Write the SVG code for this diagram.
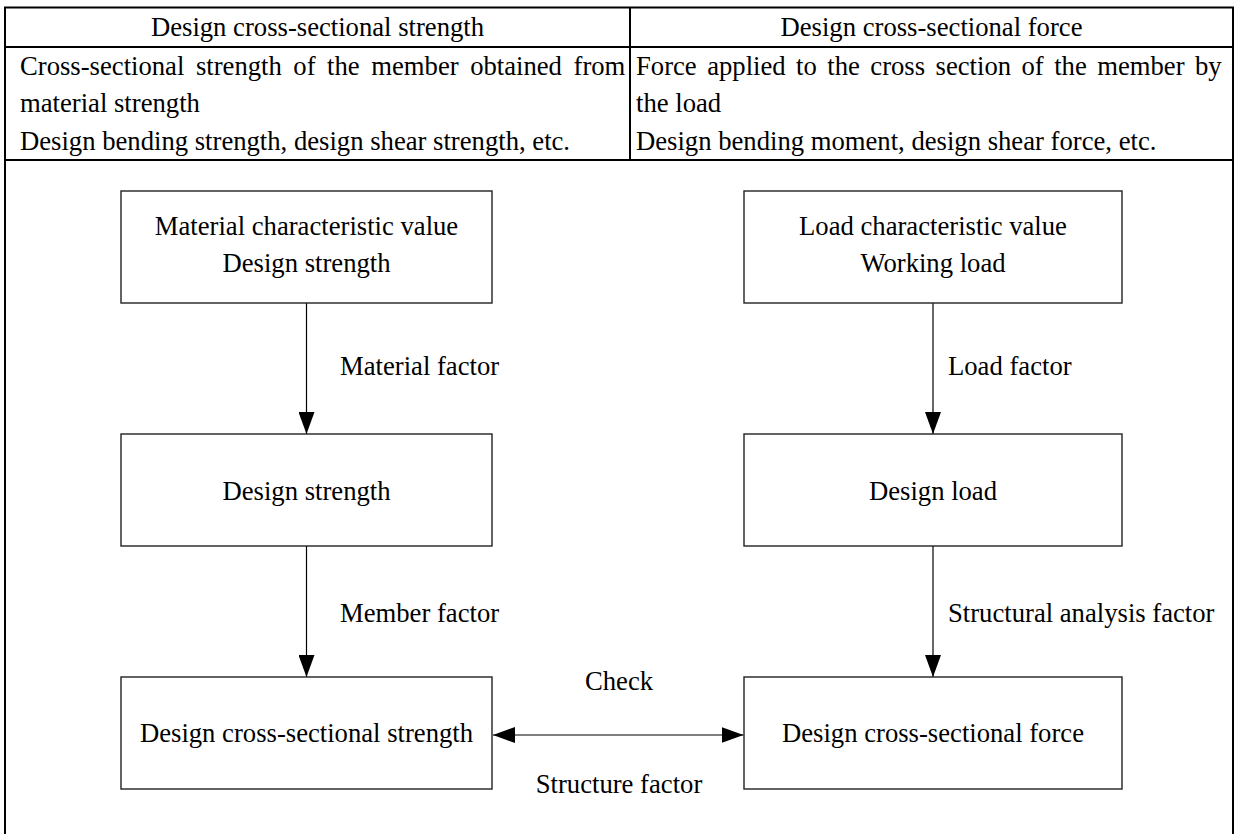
<svg xmlns="http://www.w3.org/2000/svg" width="1235" height="834" viewBox="0 0 1235 834">
<style>
  text { font-family: "Liberation Serif", "Times New Roman", serif; font-size: 26.67px; fill: #000; }
  .mid { text-anchor: middle; }
  .tbl { fill: none; stroke: #000; stroke-width: 2; }
  .box { fill: #fff; stroke: #222; stroke-width: 1.4; }
  .con { fill: none; stroke: #000; stroke-width: 1.2; }
</style>
<defs>
  <marker id="arr" markerUnits="userSpaceOnUse" markerWidth="22" markerHeight="16" refX="22" refY="8" orient="auto-start-reverse">
    <path d="M0,0 L22,8 L0,16 z" fill="#000"/>
  </marker>
</defs>
<rect width="1235" height="834" fill="#fff"/>
<g id="table">
  <path class="tbl" d="M5,840 V7.5 H1233 V840 M5,47 H1233 M5,160 H1233 M630,7.5 V160"/>
  <text class="mid" x="317.5" y="36">Design cross-sectional strength</text>
  <text class="mid" x="931.5" y="36">Design cross-sectional force</text>
  <text x="20" y="75" word-spacing="4.9">Cross-sectional strength of the member obtained from</text>
  <text x="20" y="112">material strength</text>
  <text x="20" y="150">Design bending strength, design shear strength, etc.</text>
  <text x="636" y="75" word-spacing="3.8">Force applied to the cross section of the member by</text>
  <text x="636" y="112">the load</text>
  <text x="636" y="150">Design bending moment, design shear force, etc.</text>
</g>
<g id="connectors">
  <line class="con" x1="306.5" y1="303" x2="306.5" y2="434" marker-end="url(#arr)"/>
  <line class="con" x1="306.5" y1="546" x2="306.5" y2="677" marker-end="url(#arr)"/>
  <line class="con" x1="933" y1="303" x2="933" y2="434" marker-end="url(#arr)"/>
  <line class="con" x1="933" y1="546" x2="933" y2="677" marker-end="url(#arr)"/>
  <line class="con" x1="493" y1="735" x2="743.5" y2="735" marker-start="url(#arr)" marker-end="url(#arr)"/>
  <text x="340" y="375">Material factor</text>
  <text x="340" y="622">Member factor</text>
  <text x="948" y="375">Load factor</text>
  <text x="948" y="622">Structural analysis factor</text>
  <text class="mid" x="619" y="690">Check</text>
  <text class="mid" x="619" y="793">Structure factor</text>
</g>
<g id="n-material-char">
  <rect class="box" x="121" y="191" width="371" height="112"/>
  <text class="mid" x="306.5" y="235">Material characteristic value</text>
  <text class="mid" x="306.5" y="272">Design strength</text>
</g>
<g id="n-load-char">
  <rect class="box" x="744" y="191" width="378" height="112"/>
  <text class="mid" x="933" y="235">Load characteristic value</text>
  <text class="mid" x="933" y="272">Working load</text>
</g>
<g id="n-design-strength">
  <rect class="box" x="121" y="434" width="371" height="112"/>
  <text class="mid" x="306.5" y="500">Design strength</text>
</g>
<g id="n-design-load">
  <rect class="box" x="744" y="434" width="378" height="112"/>
  <text class="mid" x="933" y="500">Design load</text>
</g>
<g id="n-cs-strength">
  <rect class="box" x="121" y="677" width="371" height="112"/>
  <text class="mid" x="306.5" y="742">Design cross-sectional strength</text>
</g>
<g id="n-cs-force">
  <rect class="box" x="744" y="677" width="378" height="112"/>
  <text class="mid" x="933" y="742">Design cross-sectional force</text>
</g>
</svg>
